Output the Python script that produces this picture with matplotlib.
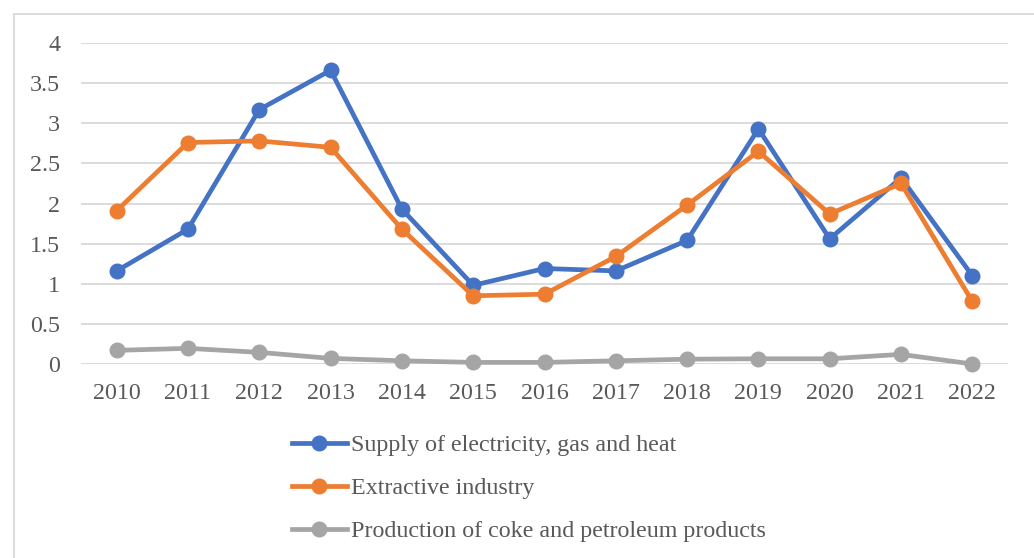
import matplotlib
matplotlib.use("Agg")
import matplotlib.pyplot as plt
from matplotlib.lines import Line2D

years = ["2010", "2011", "2012", "2013", "2014", "2015", "2016",
         "2017", "2018", "2019", "2020", "2021", "2022"]
supply_energy = [1.16, 1.68, 3.17, 3.66, 1.93, 0.98, 1.19,
                 1.16, 1.54, 2.93, 1.56, 2.32, 1.10]
extractive = [1.91, 2.76, 2.78, 2.70, 1.68, 0.85, 0.87,
              1.34, 1.98, 2.65, 1.87, 2.25, 0.78]
coke_petroleum = [0.17, 0.195, 0.145, 0.07, 0.04, 0.02, 0.02,
                  0.04, 0.06, 0.065, 0.065, 0.12, 0.0]
y_ticks = [0, 0.5, 1, 1.5, 2, 2.5, 3, 3.5, 4]
y_tick_labels = ["0", "0.5", "1", "1.5", "2", "2.5", "3", "3.5", "4"]

series = [
    ("Supply of electricity, gas and heat", supply_energy, "#4472C4"),
    ("Extractive industry", extractive, "#ED7D31"),
    ("Production of coke and petroleum products", coke_petroleum, "#A5A5A5"),
]

plt.rcParams["font.family"] = ["Liberation Serif", "DejaVu Serif"]
text_color = "#595959"
grid_color = "#D9D9D9"
fs = 17.3

W, H = 1034, 558
fig = plt.figure(figsize=(W / 100, H / 100), dpi=100)
ax = fig.add_axes([81 / W, 1 - 364 / H, (1008 - 81) / W, (364 - 43) / H])

x = list(range(len(years)))
for label, vals, color in series:
    ax.plot(x, vals, color=color, lw=3.4, marker="o", markersize=10.5,
            label=label, clip_on=False, zorder=3)

ax.set_xlim(-0.5, len(years) - 0.5)
ax.set_ylim(0, 4)
ax.set_yticks(y_ticks)
ax.set_yticklabels(y_tick_labels)
ax.set_xticks(x)
ax.set_xticklabels(years)
ax.grid(axis="y", color=grid_color, lw=1.3, zorder=0)
ax.set_axisbelow(True)
for s in ax.spines.values():
    s.set_visible(False)
ax.tick_params(axis="both", length=0, labelsize=fs, colors=text_color)
ax.tick_params(axis="y", pad=15)
ax.tick_params(axis="x", pad=14)

# chart area border (left and top edges)
fig.add_artist(Line2D([13.5 / W, 13.5 / W], [0, 1 - 13.5 / H],
                      color=grid_color, lw=1.3, transform=fig.transFigure))
fig.add_artist(Line2D([13.5 / W, 1], [1 - 13.5 / H, 1 - 13.5 / H],
                      color=grid_color, lw=1.3, transform=fig.transFigure))

leg = fig.legend(loc="upper left", bbox_to_anchor=(291.5 / W, 1 - 434.5 / H),
                 frameon=False, fontsize=fs, handlelength=2.33,
                 handletextpad=0.14, labelspacing=0.88, borderpad=0,
                 borderaxespad=0, labelcolor=text_color)

fig.savefig("out.png", dpi=100)
